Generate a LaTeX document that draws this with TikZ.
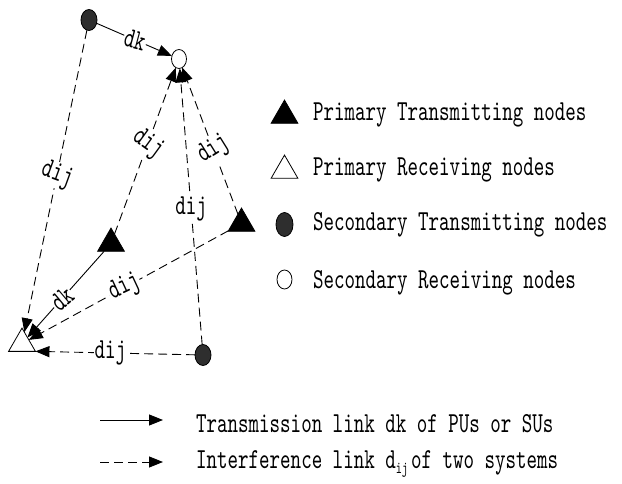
\documentclass[tikz,border=0pt]{standalone}
\usepackage{fontspec}
\newfontfamily\cfont[FakeStretch=0.69]{lmmono10-regular.otf}
\usetikzlibrary{shapes.geometric,arrows.meta}
\begin{document}
\begin{tikzpicture}[x=1pt,y=-1pt,
  every node/.style={font=\cfont\fontsize{29}{29}\selectfont},
  ptx/.style={regular polygon, regular polygon sides=3, fill=black, draw=black, line width=0.8pt, minimum size=31pt, inner sep=0pt, outer sep=0pt},
  prx/.style={ptx, fill=white},
  stx/.style={ellipse, draw=black, fill=black!82, line width=0.8pt, minimum width=16pt, minimum height=21pt, inner sep=0pt, outer sep=0pt},
  srx/.style={stx, fill=white, minimum width=15pt, minimum height=19pt},
  trans/.style={line width=0.9pt, -{Triangle[length=14pt,width=11pt]}},
  intf/.style={trans, dash pattern=on 9pt off 5pt},
  lbl/.style={fill=white, inner sep=1pt},
  legtext/.style={anchor=west, inner sep=0pt}
]
\useasboundingbox (0,0) rectangle (622,484);
% diagram nodes
\node[stx] (stxA) at (89,20) {};
\node[srx] (srx) at (179,59) {};
\node[ptx] (ptxA) at (111,243.6) {};
\node[ptx] (ptxB) at (241.5,223.6) {};
\node[prx] (prx) at (22,343.6) {};
\node[stx] (stxB) at (203,355) {};
% links
\draw[trans] (stxA) -- node[lbl, pos=.51, rotate=-15] {dk} (srx);
\draw[intf] (stxA) -- node[lbl, pos=.48, rotate=-20] {dij} (prx);
\draw[intf] (ptxA) -- node[lbl, pos=.54, rotate=-36] {dij} (srx);
\draw[intf] (stxB) -- node[lbl, pos=.49] {dij} (srx);
\draw[intf] (ptxB) -- node[lbl, pos=.44, rotate=32] {dij} (srx);
\draw[trans] (ptxA) -- node[lbl, pos=.55, rotate=40] {dk} (prx);
\draw[intf] (ptxB) -- node[lbl, pos=.52, rotate=25] {dij} (prx);
\draw[intf] (stxB) -- node[lbl, pos=.53] {dij} (prx.corner 3);
% legend symbols
\node[ptx] (lg1) at (284.5,115.6) {};
\node[prx] (lg2) at (284.5,170.6) {};
\node[stx, minimum width=17pt, minimum height=24pt] (lg3) at (284.5,224.5) {};
\node[srx] (lg4) at (284.5,279.5) {};
\node[legtext] (lt1) at (313,115) {Primary Transmitting nodes};
\node[legtext] (lt2) at (313,170) {Primary Receiving nodes};
\node[legtext] (lt3) at (313,225) {Secondary Transmitting nodes};
\node[legtext] (lt4) at (313,283) {Secondary Receiving nodes};
% link legend
\coordinate (la1) at (100,420);
\coordinate (la2) at (163,420);
\coordinate (lb1) at (100,462);
\coordinate (lb2) at (163,462);
\draw[trans] (la1) -- (la2);
\draw[intf] (lb1) -- (lb2);
\node[legtext] (lt5) at (196,424) {Transmission link dk of PUs or SUs};
\node[legtext] (lt6) at (196,464) {Interference link d\raisebox{-5pt}{\fontsize{17}{17}\selectfont ij}\hspace{3pt}of two systems};
\end{tikzpicture}
\end{document}
